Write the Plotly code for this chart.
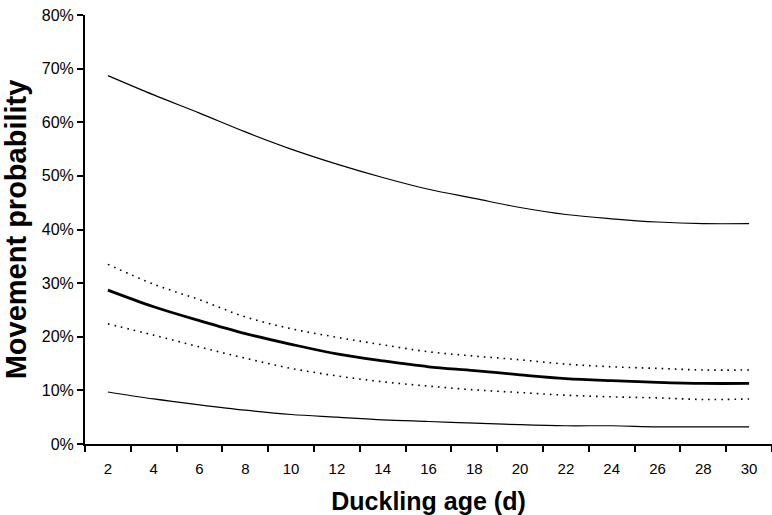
import plotly.graph_objects as go

age = [2, 4, 6, 8, 10, 12, 14, 16, 18, 20, 22, 24, 26, 28, 30]
estimate = [0.287, 0.256, 0.230, 0.206, 0.186, 0.168, 0.155, 0.144, 0.137, 0.129, 0.122, 0.118, 0.115, 0.113, 0.113]
upper_dotted = [0.335, 0.298, 0.269, 0.237, 0.215, 0.199, 0.185, 0.172, 0.164, 0.157, 0.149, 0.144, 0.141, 0.138, 0.138]
lower_dotted = [0.224, 0.203, 0.181, 0.160, 0.141, 0.127, 0.116, 0.108, 0.101, 0.096, 0.091, 0.088, 0.086, 0.083, 0.084]
upper_solid = [0.687, 0.651, 0.617, 0.582, 0.550, 0.522, 0.497, 0.475, 0.458, 0.441, 0.428, 0.420, 0.414, 0.411, 0.411]
lower_solid = [0.097, 0.084, 0.073, 0.063, 0.055, 0.050, 0.045, 0.042, 0.039, 0.036, 0.034, 0.034, 0.032, 0.032, 0.032]

y_ticks = [0, 0.1, 0.2, 0.3, 0.4, 0.5, 0.6, 0.7, 0.8]
x_labels = [2, 4, 6, 8, 10, 12, 14, 16, 18, 20, 22, 24, 26, 28, 30]
x_ticks = [1, 3, 5, 7, 9, 11, 13, 15, 17, 19, 21, 23, 25, 27, 29, 31]

fig = go.Figure()
fig.add_trace(go.Scatter(x=age, y=upper_solid, mode="lines", line=dict(color="black", width=1.2, shape="spline")))
fig.add_trace(go.Scatter(x=age, y=upper_dotted, mode="lines", line=dict(color="black", width=1.6, dash="1.6px,5px", shape="spline")))
fig.add_trace(go.Scatter(x=age, y=estimate, mode="lines", line=dict(color="black", width=2.8, shape="spline")))
fig.add_trace(go.Scatter(x=age, y=lower_dotted, mode="lines", line=dict(color="black", width=1.6, dash="1.6px,5px", shape="spline")))
fig.add_trace(go.Scatter(x=age, y=lower_solid, mode="lines", line=dict(color="black", width=1.2, shape="spline")))

fig.update_layout(
    width=772, height=515,
    margin=dict(l=85, r=0, t=15, b=71),
    paper_bgcolor="white", plot_bgcolor="white",
    showlegend=False,
    font=dict(family="Liberation Sans, Arial, sans-serif", color="black", size=15),
    xaxis=dict(
        range=[1, 31], tickvals=x_labels, ticktext=[str(v) for v in x_labels],
        ticks="", showgrid=False, zeroline=False,
        showline=True, linecolor="black", linewidth=2,
        ticklabelstandoff=10,
        tickfont=dict(size=15),
        minor=dict(tickvals=x_ticks, ticks="outside", ticklen=6, tickwidth=2, tickcolor="black", showgrid=False),
        title=dict(text="<b>Duckling age (d)</b>", font=dict(size=25), standoff=16),
    ),
    yaxis=dict(
        range=[0, 0.8], tickvals=y_ticks, tickformat=".0%",
        ticks="outside", ticklen=6, tickwidth=2, tickcolor="black",
        showgrid=False, zeroline=False,
        showline=True, linecolor="black", linewidth=2,
        tickfont=dict(size=16),
        title=dict(text="<b>Movement probability</b>", font=dict(size=29), standoff=8),
    ),
)

fig.write_html("out.html")
